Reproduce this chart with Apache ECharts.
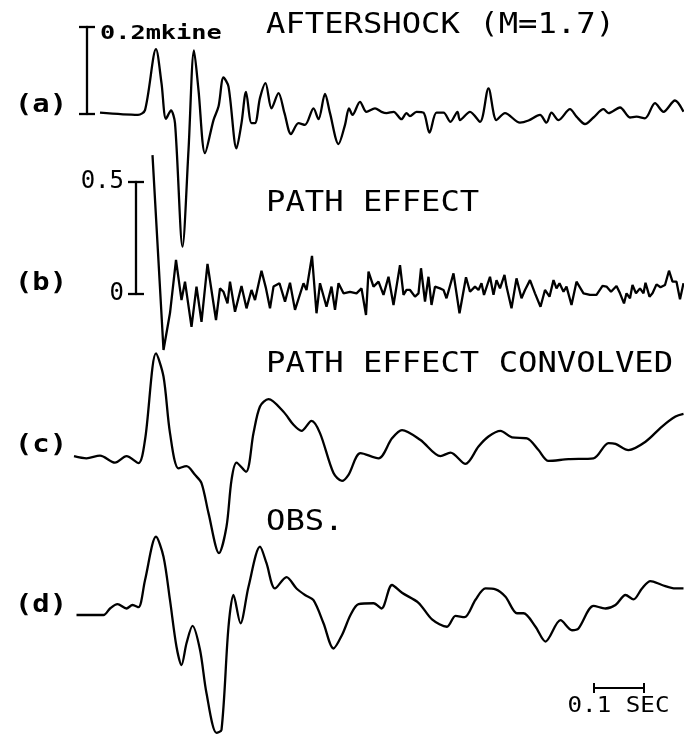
<!DOCTYPE html>
<html><head><meta charset="utf-8">
<script src="https://cdn.jsdelivr.net/npm/echarts@6/dist/echarts.min.js"></script>
<style>html,body{margin:0;padding:0;background:#fff}#c{width:684px;height:735px}</style>
</head><body><div id="c"></div>
<script>
// Time in ms (0 = start of trace c); amplitudes: (a),(c),(d) in mkine, (b) normalised
const tA = [52,128,142,164,175,184,194,202,217,229,
  240,249,262,279,289,299,309,325,335,344,
  355,362,372,383,395,409,421,434,449,462,
  479,489,502,512,529,542,550,557,572,585,
  602,615,625,639,655,665,672,685,699,711,
  725,739,753,767,772,792,812,829,845,862,
  892,909,932,945,955,969,992,1005,1022,1039,
  1059,1069,1092,1112,1125,1142,1162,1179,1202,1219];
const vA = [0.003,-0.002,0.009,0.149,0.071,-0.011,0.008,-0.021,-0.305,-0.083,
  0.146,0.055,-0.090,-0.014,0.017,0.084,0.063,-0.079,-0.021,0.051,
  -0.021,-0.021,0.037,0.071,0.013,0.048,0.002,-0.046,-0.021,-0.025,
  0.013,-0.012,0.046,0.002,-0.069,-0.025,0.013,-0.002,0.028,0.005,
  0.013,0.005,0.002,0.005,-0.012,0.002,-0.005,0.005,0.003,-0.043,
  0.003,0.003,-0.018,0.005,-0.014,0.005,-0.018,0.059,-0.014,0.002,
  -0.020,-0.015,-0.002,-0.020,0.003,-0.014,0.011,-0.006,-0.023,-0.008,
  0.011,0.002,0.015,-0.008,-0.006,-0.010,0.025,0.005,0.031,0.005];

const tB = [157,179,192,204,215,222,235,245,255,267,
  284,292,299,307,312,322,335,345,355,362,
  375,384,392,399,411,422,432,442,459,465,
  476,485,492,505,515,522,529,539,552,565,
  575,584,589,599,609,619,629,639,652,659,
  665,672,682,689,694,702,709,715,722,732,
  739,745,759,771,784,792,802,809,815,820,
  832,839,845,852,861,865,875,885,895,902,
  912,922,933,942,951,959,965,971,979,985,
  995,1005,1019,1032,1045,1057,1065,1074,1085,1092,
  1100,1105,1112,1117,1124,1132,1139,1143,1151,1157,
  1165,1173,1182,1190,1197,1205,1212,1219];
const vB = [0.620,-0.250,-0.085,0.152,-0.027,0.055,-0.147,0.033,-0.124,0.134,
  -0.116,0.025,0.010,-0.042,0.055,-0.079,0.036,-0.064,0.018,-0.027,
  0.104,0.025,-0.064,0.033,0.048,-0.034,0.050,-0.071,0.048,0.018,
  0.170,-0.086,0.048,-0.057,0.033,-0.071,0.048,0.003,0.010,0.003,
  0.025,-0.094,0.100,0.033,0.055,-0.004,0.077,-0.049,0.129,-0.004,
  0.018,0.018,-0.012,0.003,0.115,-0.034,0.077,-0.049,0.033,0.025,
  0.018,-0.019,0.092,-0.086,0.075,0.010,0.033,0.018,0.048,-0.004,
  0.077,-0.004,0.062,0.025,0.085,0.033,-0.064,0.070,-0.019,0.018,
  0.062,0.003,-0.057,0.018,-0.012,0.062,0.025,0.048,0.010,0.033,
  -0.049,0.055,0.003,-0.004,-0.004,0.036,0.033,0.010,0.036,0.003,
  -0.042,0.003,-0.019,0.040,0.003,0.025,0.003,0.050,-0.012,0.003,
  0.043,0.030,0.040,0.104,0.055,0.055,-0.024,0.048];

const tC = [0,25,52,82,105,129,142,164,179,192,
  209,225,242,255,269,290,305,315,325,344,
  359,372,389,419,439,455,475,492,519,536,
  549,573,609,636,656,693,733,753,783,809,
  829,853,876,906,929,949,989,1039,1069,1083,
  1109,1143,1176,1203,1219];
const vC = [0.002,-0.003,0.003,-0.013,0.002,-0.014,0.039,0.238,0.185,0.055,
  -0.026,-0.021,-0.041,-0.060,-0.129,-0.221,-0.160,-0.053,-0.013,-0.034,
  0.055,0.116,0.133,0.104,0.074,0.060,0.083,0.055,-0.037,-0.055,
  -0.041,0.009,-0.003,0.043,0.062,0.039,0.002,0.010,-0.016,0.024,
  0.047,0.060,0.045,0.043,0.016,-0.009,-0.005,-0.003,0.032,0.030,
  0.016,0.035,0.070,0.093,0.099];

const tD = [5,59,72,87,105,117,129,142,164,179,
  192,205,215,225,237,252,265,285,295,309,
  319,333,349,372,385,402,425,445,462,479,
  499,519,536,553,569,599,615,636,656,689,
  716,746,763,781,803,823,843,863,886,899,
  923,943,973,996,1009,1039,1063,1083,1103,1119,
  1136,1153,1176,1203,1219];
const vD = [0,0,0.015,0.025,0.015,0.023,0.018,0.080,0.180,0.134,
  0.034,-0.073,-0.115,-0.065,-0.025,-0.080,-0.180,-0.271,-0.264,-0.027,
  0.046,-0.019,0.065,0.157,0.119,0.061,0.087,0.061,0.046,0.034,
  -0.019,-0.077,-0.046,0,0.025,0.027,0.015,0.069,0.051,0.028,
  -0.010,-0.027,-0.002,-0.005,0.035,0.061,0.059,0.042,0.004,0.004,
  -0.027,-0.061,-0.012,-0.035,-0.031,0.021,0.015,0.023,0.046,0.036,
  0.061,0.078,0.069,0.061,0.061];

const panelLabels = ['(a)', '(b)', '(c)', '(d)'];
const titles = ['AFTERSHOCK (M=1.7)', 'PATH EFFECT', 'PATH EFFECT CONVOLVED', 'OBS.'];
const scaleA = 0.2;          // mkine, scale bar of (a)
const scaleB = 0.5;          // tick of (b)
const timeBar = 100;         // ms, "0.1 SEC"
const scaleText = '0.2mkine';
const timeText = '0.1 SEC';

// ---------- layout ----------
const W = 684, PX_PER_MS = 0.5, X0 = 74;
const FONT = '"DejaVu Sans Mono", monospace';
function xRange(left) { return { min: (left - X0) / PX_PER_MS, max: (W - X0) / PX_PER_MS }; }
const zip = (t, v) => t.map((x, i) => [x, v[i]]);
const black = '#000';
const LW = 2.3;

const grids = [
  { left: 87, right: 0, top: 27, height: 87 },
  { left: 136, right: 0, top: 182, height: 112 },
  { left: 0, right: 0, top: 370, height: 87 },
  { left: 0, right: 0, top: 528, height: 87 },
  { left: 594, width: timeBar * PX_PER_MS, top: 687, height: 1 }
].map(g => Object.assign({ containLabel: false, outerBoundsMode: 'none' }, g));

function hiddenX(gi, left) {
  const r = xRange(left);
  return { gridIndex: gi, type: 'value', min: r.min, max: r.max, show: false, axisLine: { onZero: false }, splitLine: { show: false } };
}
const xAxes = [
  hiddenX(0, 87), hiddenX(1, 136), hiddenX(2, 0), hiddenX(3, 0),
  { gridIndex: 4, type: 'value', min: 0, max: timeBar, interval: timeBar, position: 'bottom',
    axisLine: { show: true, onZero: false, lineStyle: { color: black, width: 2 } },
    axisTick: { show: true, length: 5, lineStyle: { color: black, width: 2 } },
    axisLabel: { show: false }, splitLine: { show: false } },
  { gridIndex: 4, type: 'value', min: 0, max: timeBar, interval: timeBar, position: 'bottom',
    axisLine: { show: false, onZero: false },
    axisTick: { show: true, inside: true, length: 5, lineStyle: { color: black, width: 2 } },
    axisLabel: { show: false }, splitLine: { show: false } }
];

function barY(gi, max, inside, labels) {
  return { gridIndex: gi, type: 'value', min: 0, max: max, interval: max, position: 'left',
    axisLine: { show: !inside, onZero: false, lineStyle: { color: black, width: 2.3 } },
    axisTick: { show: true, inside: inside, length: 8, lineStyle: { color: black, width: 2.3 } },
    axisLabel: labels ? { show: true, color: black, fontSize: 24, fontFamily: FONT, margin: 12 } : { show: false },
    splitLine: { show: false } };
}
const yAxes = [
  barY(0, scaleA, false, false),
  barY(1, scaleB, false, true),
  { gridIndex: 2, type: 'value', min: 0, max: scaleA, show: false, axisLine: { onZero: false }, splitLine: { show: false } },
  { gridIndex: 3, type: 'value', min: 0, max: scaleA, show: false, axisLine: { onZero: false }, splitLine: { show: false } },
  { gridIndex: 4, type: 'value', min: 0, max: 1, show: false, axisLine: { onZero: false }, splitLine: { show: false } },
  barY(0, scaleA, true, false),
  barY(1, scaleB, true, false)
];

function trace(i, data, smooth) {
  return { type: 'line', xAxisIndex: i, yAxisIndex: i, data: data, clip: false, symbol: 'none', showSymbol: false,
    smooth: smooth, lineStyle: { color: black, width: LW }, silent: true };
}

function txt(text, x, y, size, sx, align, weight) {
  return { type: 'text', x: x, y: y, scaleX: sx, scaleY: 1, silent: true,
    style: { text: text, x: 0, y: 0, fill: black, font: (weight || 'normal') + ' ' + size + 'px ' + FONT,
      textAlign: align || 'left', align: align || 'left', textVerticalAlign: 'middle', verticalAlign: 'middle' } };
}
const titleY = [25.5, 204, 364.5, 523];
const labelY = [106, 284, 446, 606];
const graphics = [];
titles.forEach((t, i) => graphics.push(txt(t, 266, titleY[i], 28, 1.15)));
panelLabels.forEach((t, i) => graphics.push(txt(t, 15, labelY[i], 24, 1.2, 'left', 'bold')));
graphics.push(txt(scaleText, 100, 34, 19, 1.33, 'left', 'bold'));
graphics.push(txt(timeText, 618.5, 706, 22, 1.1, 'center'));

const chart = echarts.init(document.getElementById('c'), null, { renderer: 'canvas' });
chart.setOption({
  backgroundColor: '#fff',
  animation: false,
  grid: grids,
  xAxis: xAxes,
  yAxis: yAxes,
  series: [
    trace(0, zip(tA, vA), 0.3),
    trace(1, zip(tB, vB), false),
    trace(2, zip(tC, vC), 0.3),
    trace(3, zip(tD, vD), 0.3)
  ],
  graphic: graphics
});
</script></body></html>
